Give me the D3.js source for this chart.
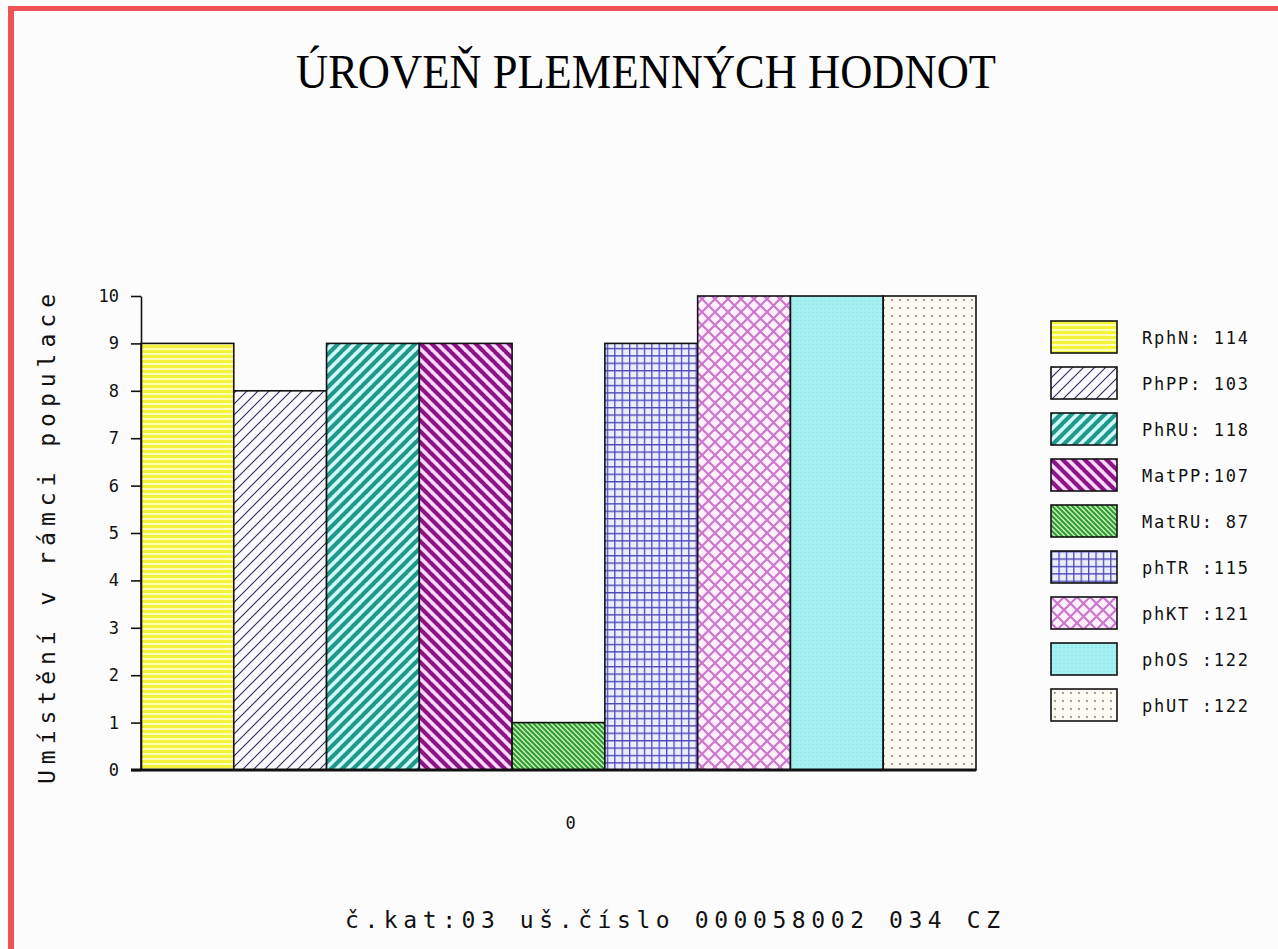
<!DOCTYPE html>
<html><head><meta charset="utf-8">
<script src="https://cdn.jsdelivr.net/npm/d3@7"></script>
<style>html,body{margin:0;padding:0;background:#fcfcfc;overflow:hidden}</style>
</head><body>
<script>
const categories = ["0"];
const seriesNames = ["RphN", "PhPP", "PhRU", "MatPP", "MatRU", "phTR", "phKT", "phOS", "phUT"];
const seriesValues = [9, 8, 9, 9, 1, 9, 10, 10, 10];
const legendLabels = ["RphN: 114", "PhPP: 103", "PhRU: 118", "MatPP:107", "MatRU: 87", "phTR :115", "phKT :121", "phOS :122", "phUT :122"];
const yTicks = [0,1,2,3,4,5,6,7,8,9,10];
const title = "ÚROVEŇ PLEMENNÝCH HODNOT";
const yTitle = "Umístění v rámci populace";
const footer = "č.kat:03 uš.číslo 000058002 034 CZ";

const W = 1278, H = 949;
const svg = d3.select("body").append("svg").attr("width", W).attr("height", H);
svg.append("rect").attr("width", W).attr("height", H).attr("fill", "#fcfcfc");
// red frame (top and left)
svg.append("rect").attr("x", 8).attr("y", 6).attr("width", W - 8).attr("height", 5).attr("fill", "#ef5356");
svg.append("rect").attr("x", 8).attr("y", 6).attr("width", 6).attr("height", H - 6).attr("fill", "#ef5356");

const defs = svg.append("defs");
function pat(id, w, h, bg, draw) {
  const p = defs.append("pattern").attr("id", id).attr("patternUnits", "userSpaceOnUse")
    .attr("width", w).attr("height", h);
  p.append("rect").attr("width", w).attr("height", h).attr("fill", bg);
  draw(p);
}
pat("p0", 6, 5, "#ffffb8", p => p.append("rect").attr("y", 0).attr("width", 6).attr("height", 3).attr("fill", "#f4f23c"));
pat("p1", 11, 11, "#fbfbff", p => {
  p.append("path").attr("d", "M-1,12 L12,-1 M-12,12 L1,-1 M10,12 L23,-1").attr("stroke", "#2a2a5a").attr("stroke-width", 1.1);
});
pat("p2", 11, 11, "#cffcf8", p => {
  p.append("path").attr("d", "M-1,12 L12,-1 M-12,12 L1,-1 M10,12 L23,-1").attr("stroke", "#22988c").attr("stroke-width", 4.2);
});
pat("p3", 11, 11, "#ffd8ff", p => {
  p.append("path").attr("d", "M-1,-1 L12,12 M-12,-1 L1,12 M10,-1 L23,12").attr("stroke", "#8a1585").attr("stroke-width", 4.2);
});
pat("p4", 5, 5, "#c4f0b8", p => {
  p.append("path").attr("d", "M-1,-1 L6,6 M-6,-1 L1,6 M4,-1 L11,6").attr("stroke", "#2e9a30").attr("stroke-width", 2);
});
pat("p5", 7.4, 7.4, "#eceeff", p => {
  p.append("path").attr("d", "M0,0 H7.4 M0,0 V7.4").attr("stroke", "#4c48b8").attr("stroke-width", 2.6);
});
pat("p6", 13, 13, "#fff0ff", p => {
  p.append("path").attr("d", "M0,0 L13,13 M13,0 L0,13").attr("stroke", "#cc77cc").attr("stroke-width", 2.2);
});
pat("p7", 4, 4, "#a4f0f0", p => {
  p.append("rect").attr("x", 0).attr("y", 0).attr("width", 2).attr("height", 1).attr("fill", "#8ee6e6");
});
pat("p8", 8, 8, "#fdfaf3", p => {
  p.append("rect").attr("x", 3).attr("y", 3).attr("width", 1.8).attr("height", 1.8).attr("fill", "#8a8a80");
});

const x = d3.scaleBand().domain(seriesNames).range([141, 976]).padding(0);
const y = d3.scaleLinear().domain([0, 10]).range([770, 296]);

svg.append("text").attr("x", 646).attr("y", 88).attr("text-anchor", "middle")
  .attr("font-family", "Liberation Serif").attr("font-size", 49)
  .attr("textLength", 700).attr("lengthAdjust", "spacingAndGlyphs")
  .text(title);

svg.append("g").selectAll("rect").data(seriesNames).join("rect")
  .attr("x", d => x(d)).attr("y", (d, i) => y(seriesValues[i]))
  .attr("width", x.bandwidth()).attr("height", (d, i) => y(0) - y(seriesValues[i]))
  .attr("fill", (d, i) => `url(#p${i})`).attr("stroke", "#111").attr("stroke-width", 1.6);

const ax = svg.append("g").attr("transform", "translate(141,0)")
  .call(d3.axisLeft(y).tickValues(yTicks).tickSize(10).tickPadding(12).tickSizeOuter(0).tickFormat(d3.format("d")));
ax.select(".domain").attr("stroke", "#111").attr("stroke-width", 1.6);
ax.selectAll(".tick line").attr("stroke", "#111").attr("stroke-width", 1.6);
ax.selectAll(".tick text").attr("font-family", "DejaVu Sans Mono").attr("font-size", 17).attr("fill", "#111");

svg.append("line").attr("x1", 131).attr("x2", 976).attr("y1", y(0)).attr("y2", y(0))
  .attr("stroke", "#111").attr("stroke-width", 3);

const xc = d3.scaleBand().domain(categories).range([141, 976]);
svg.append("g").selectAll("text").data(categories).join("text")
  .attr("x", d => xc(d) + xc.bandwidth() / 2 + 12).attr("y", 829).attr("text-anchor", "middle")
  .attr("font-family", "DejaVu Sans Mono").attr("font-size", 17).attr("fill", "#111").text(d => d);

svg.append("text").attr("transform", "translate(55,539) rotate(-90)").attr("text-anchor", "middle")
  .attr("font-family", "DejaVu Sans Mono").attr("font-size", 23).attr("fill", "#111")
  .attr("textLength", 490).attr("lengthAdjust", "spacing").text(yTitle);

svg.append("text").attr("x", 345).attr("y", 928)
  .attr("font-family", "DejaVu Sans Mono").attr("font-size", 23).attr("fill", "#111")
  .attr("textLength", 655).attr("lengthAdjust", "spacing").text(footer);

const lg = svg.append("g").selectAll("g").data(seriesNames).join("g")
  .attr("transform", (d, i) => `translate(1051,${321 + i * 46})`);
lg.append("rect").attr("width", 66).attr("height", 32).attr("fill", (d, i) => `url(#p${i})`)
  .attr("stroke", "#111").attr("stroke-width", 1.6);
lg.append("text").attr("x", 91).attr("y", 23).attr("font-family", "DejaVu Sans Mono")
  .attr("font-size", 17).attr("fill", "#111").attr("textLength", 106).attr("lengthAdjust", "spacing")
  .text((d, i) => legendLabels[i]);
</script>
</body></html>
